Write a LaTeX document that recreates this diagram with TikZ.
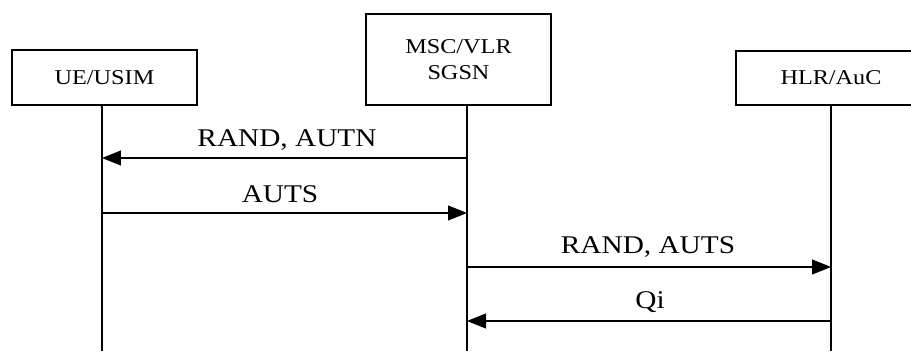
\documentclass[tikz,border=0pt]{standalone}
\usepackage{fontspec}
\setmainfont{Liberation Serif}[FakeStretch=1.15]
\usetikzlibrary{arrows.meta}

\tikzset{
    entity/.style={draw, line width=0.7pt, minimum width=3.7cm, align=center, font=\fontsize{12}{15}\selectfont},
    msg/.style={line width=0.6pt, -{Triangle[length=0.38cm, width=0.3cm]}},
    msglabel/.style={font=\fontsize{14.5}{17}\selectfont, inner sep=0pt}
}

\begin{document}
\begin{tikzpicture}[x=0.02cm, y=-0.02cm]
    \useasboundingbox (0, 0) rectangle (911, 351);
    \clip (0, 0) rectangle (911, 351);

    % Entities
    \node[entity, minimum height=1.1cm] (ue) at (104.5, 77.5) {UE/USIM};
    \node[entity, minimum height=1.82cm] (msc) at (458.5, 59.5) {MSC/VLR\\SGSN};
    \node[entity, minimum height=1.08cm, minimum width=3.8cm] (hlr) at (831, 78) {HLR/AuC};

    % Lifelines
    \coordinate (ue-end) at (102, 351);
    \coordinate (msc-end) at (467, 351);
    \coordinate (hlr-end) at (831, 351);
    \draw[line width=0.6pt] (ue.south -| ue-end) -- (ue-end);
    \draw[line width=0.6pt] (msc.south -| msc-end) -- (msc-end);
    \draw[line width=0.6pt] (hlr.south -| hlr-end) -- (hlr-end);

    % Messages
    \coordinate (ue-1) at (102, 158);
    \coordinate (msc-1) at (467, 158);
    \coordinate (ue-2) at (102, 213);
    \coordinate (msc-2) at (467, 213);
    \coordinate (msc-3) at (467, 267);
    \coordinate (hlr-3) at (831, 267);
    \coordinate (msc-4) at (467, 321);
    \coordinate (hlr-4) at (831, 321);

    \draw[msg] (msc-1) -- (ue-1);
    \node[msglabel] (l1) at (287, 140) {RAND, AUTN};

    \draw[msg] (ue-2) -- (msc-2);
    \node[msglabel] (l2) at (280, 194) {AUTS};

    \draw[msg] (msc-3) -- (hlr-3);
    \node[msglabel] (l3) at (648, 247) {RAND, AUTS};

    \draw[msg] (hlr-4) -- (msc-4);
    \node[msglabel] (l4) at (650, 302) {Qi};
\end{tikzpicture}
\end{document}
